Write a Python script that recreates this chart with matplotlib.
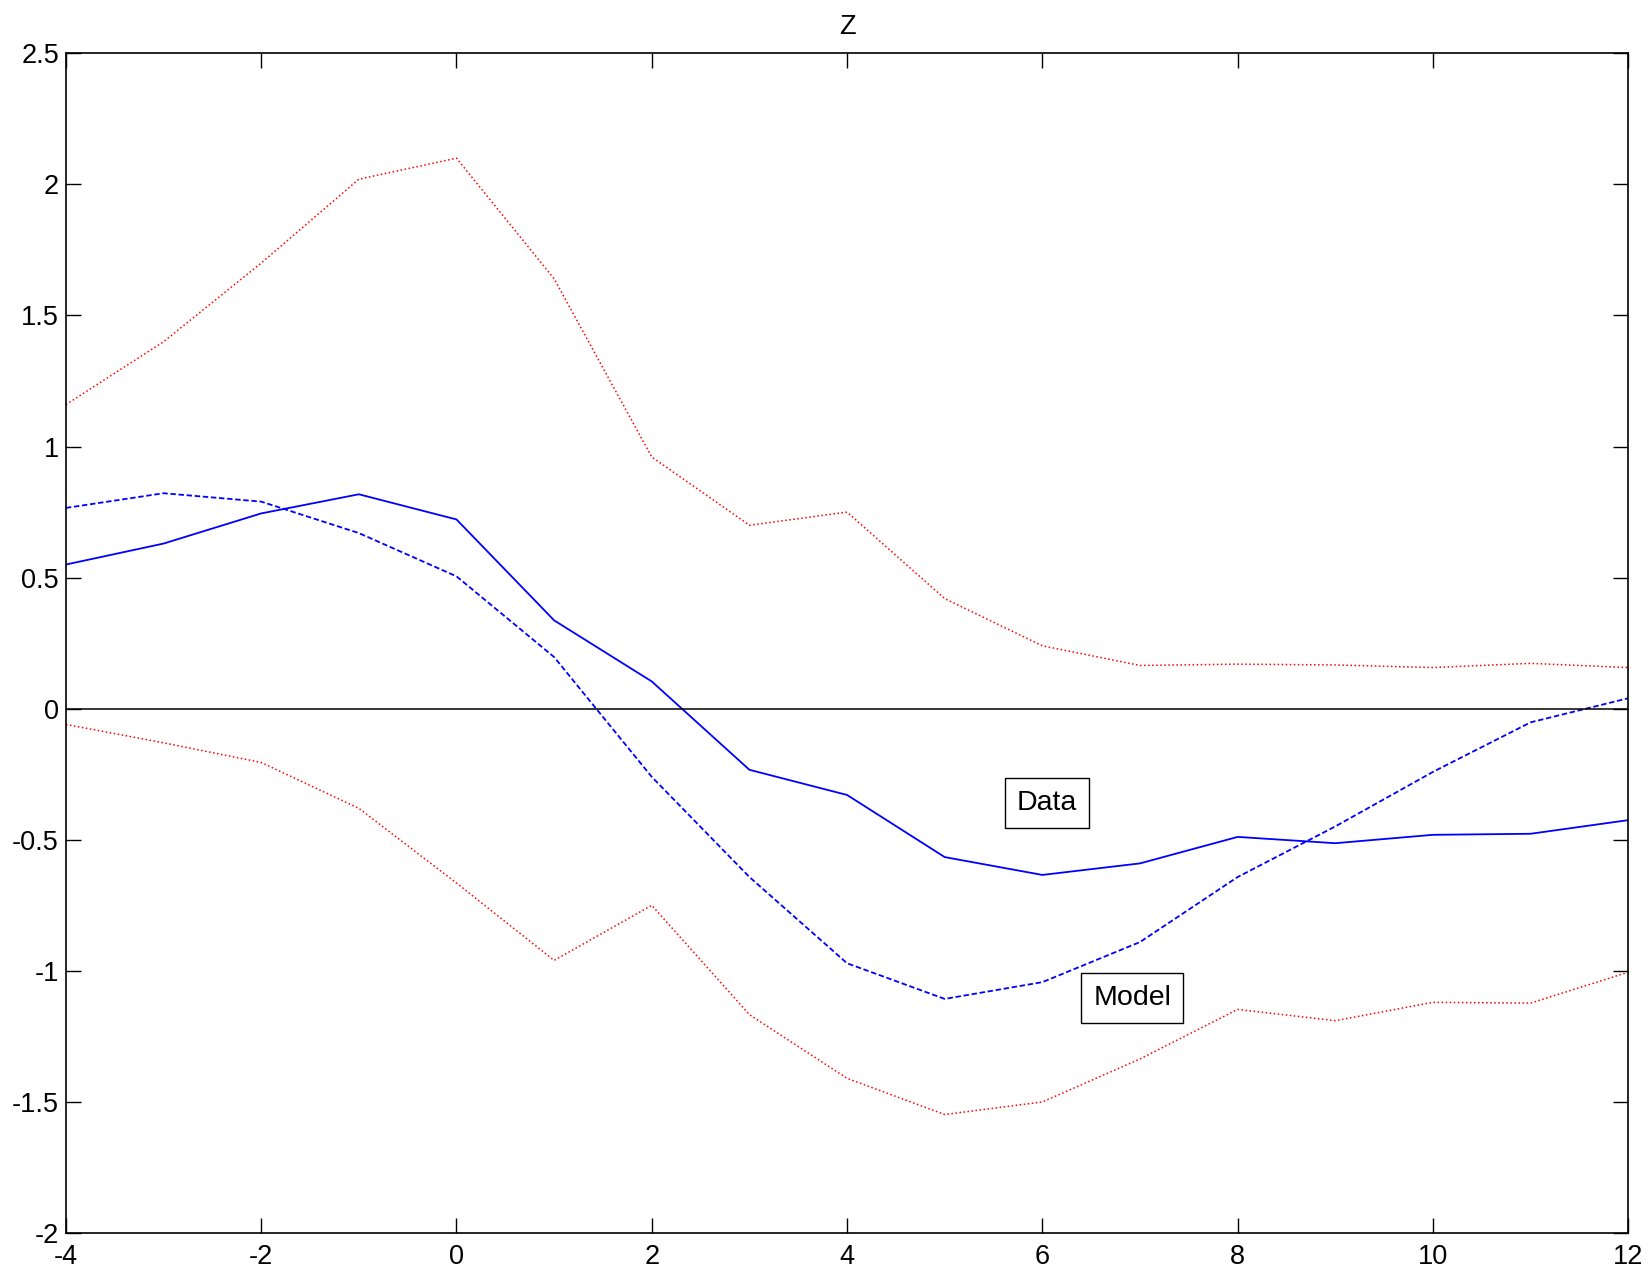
import matplotlib.pyplot as plt
import numpy as np

plt.rcParams['font.family'] = ['Liberation Sans', 'DejaVu Sans']

# horizon
x = np.arange(-4, 13)

# confidence band (red dotted)
upper = [1.16, 1.40, 1.70, 2.02, 2.10, 1.64, 0.96, 0.70, 0.75, 0.42, 0.24,
         0.165, 0.17, 0.167, 0.157, 0.173, 0.157]
lower = [-0.06, -0.13, -0.205, -0.38, -0.665, -0.96, -0.75, -1.167, -1.41,
         -1.548, -1.50, -1.336, -1.147, -1.19, -1.12, -1.123, -1.005]

# data (solid) and model (dashed)
data = [0.55, 0.63, 0.745, 0.818, 0.722, 0.337, 0.104, -0.233, -0.329,
        -0.566, -0.634, -0.59, -0.489, -0.513, -0.481, -0.477, -0.425]
model = [0.766, 0.822, 0.79, 0.67, 0.505, 0.197, -0.26, -0.642, -0.971,
         -1.107, -1.043, -0.89, -0.642, -0.449, -0.241, -0.052, 0.04]

fig = plt.figure(figsize=(16.48, 12.73), dpi=100)
ax = fig.add_axes([0.040, 0.0314, 0.948, 0.9267])

ax.plot(x, upper, color='red', linestyle=':', linewidth=1.1)
ax.plot(x, lower, color='red', linestyle=':', linewidth=1.1)
ax.plot(x, data, color='blue', linestyle='-', linewidth=1.3)
ax.plot(x, model, color='blue', linestyle=(0, (3, 1.5)), linewidth=1.3)
ax.axhline(0, color='black', linewidth=1.1)

box = dict(boxstyle='square,pad=0.42', facecolor='white', edgecolor='black', linewidth=1.0)
ax.text(6.05, -0.36, 'Data', fontsize=20.5, va='center', ha='center', bbox=box)
ax.text(6.92, -1.105, 'Model', fontsize=20.5, va='center', ha='center', bbox=box)

ax.set_xlim(-4, 12)
ax.set_ylim(-2, 2.5)
ax.set_xticks(np.arange(-4, 13, 2))
ax.set_yticks(np.arange(-2, 2.6, 0.5))
ax.set_xticklabels([str(v) for v in range(-4, 13, 2)])
ax.set_yticklabels(['-2', '-1.5', '-1', '-0.5', '0', '0.5', '1', '1.5', '2', '2.5'])
ax.tick_params(direction='in', length=11, width=1.0, top=True, right=True,
               labelsize=19.5, pad=5)
ax.tick_params(axis='x', pad=8)
for s in ax.spines.values():
    s.set_linewidth(1.2)

ax.set_title('Z', fontsize=19.5, pad=14)

plt.savefig('out.png', dpi=100)
